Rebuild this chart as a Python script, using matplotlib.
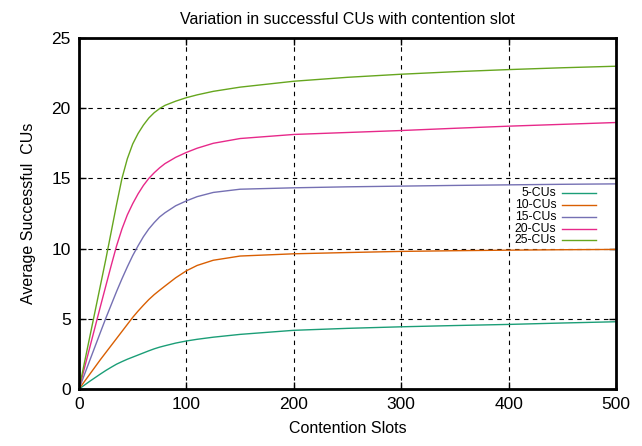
import matplotlib
matplotlib.use("Agg")
import matplotlib.pyplot as plt

plt.rcParams['font.family'] = ['Liberation Sans', 'DejaVu Sans']

slots = [0, 10, 20, 25, 30, 35, 40, 45, 50, 55, 60, 65, 70, 75, 80, 90, 100, 110, 125, 150,
         200, 250, 300, 350, 400, 450, 500]
cu5 = [0, 0.55, 1.07, 1.32, 1.55, 1.77, 1.95, 2.12, 2.27, 2.42, 2.57, 2.72, 2.86, 2.98, 3.08, 3.27, 3.42, 3.54, 3.69, 3.89,
       4.18, 4.32, 4.43, 4.52, 4.6, 4.7, 4.79]
cu10 = [0, 1.05, 2.1, 2.6, 3.1, 3.6, 4.1, 4.6, 5.1, 5.55, 5.97, 6.37, 6.72, 7.03, 7.33, 7.92, 8.42, 8.8, 9.17, 9.47,
        9.63, 9.72, 9.8, 9.85, 9.89, 9.92, 9.94]
cu15 = [0, 2.03, 4.05, 5.05, 6.0, 6.95, 7.85, 8.7, 9.5, 10.2, 10.85, 11.4, 11.85, 12.25, 12.55, 13.05, 13.4, 13.7, 14.0, 14.23,
        14.33, 14.4, 14.45, 14.5, 14.54, 14.58, 14.61]
cu20 = [0, 2.95, 5.9, 7.35, 8.8, 10.2, 11.4, 12.4, 13.2, 13.9, 14.5, 15.0, 15.4, 15.75, 16.05, 16.5, 16.85, 17.15, 17.5, 17.84,
        18.13, 18.27, 18.41, 18.57, 18.72, 18.85, 18.98]
cu25 = [0, 3.7, 7.4, 9.25, 11.2, 13.15, 15.0, 16.4, 17.45, 18.2, 18.8, 19.3, 19.68, 19.97, 20.2, 20.5, 20.75, 20.95, 21.2, 21.5,
        21.92, 22.2, 22.42, 22.6, 22.75, 22.88, 22.99]

labels = ['5-CUs', '10-CUs', '15-CUs', '20-CUs', '25-CUs']
colors = ['#1b9e77', '#d95f02', '#7570b3', '#e7298a', '#66a61e']
series = [cu5, cu10, cu15, cu20, cu25]

xticks = [0, 100, 200, 300, 400, 500]
yticks = [0, 5, 10, 15, 20, 25]

fig = plt.figure(figsize=(6.42, 4.46), dpi=100)
ax = fig.add_axes([79/642, 57/446, 537/642, 351/446])

for ys, lab, c in zip(series, labels, colors):
    ax.plot(slots, ys, color=c, lw=1.0, label=lab)

ax.set_xlim(0, 500)
ax.set_ylim(0, 25)
ax.set_xticks(xticks)
ax.set_yticks(yticks)
ax.grid(True, color='black', linestyle=(0, (4, 4)), lw=0.8)
ax.tick_params(direction='in', top=True, right=True, length=5, width=1, labelsize=12.5, pad=6)
for s in ax.spines.values():
    s.set_linewidth(2)

ax.set_title('Variation in successful CUs with contention slot', fontsize=11.5, pad=10)
ax.set_xlabel('Contention Slots', fontsize=11.5, labelpad=6)
ax.set_ylabel('Average Successful  CUs', fontsize=11.5, labelpad=11)

# legend (gnuplot style: label right-aligned, sample line to the right)
y0 = 0.5575
dy = 0.0336
for i, (lab, c) in enumerate(zip(labels, colors)):
    yy = y0 - i * dy
    ax.text(0.889, yy, lab, transform=ax.transAxes, ha='right', va='center', fontsize=8.8)
    ax.plot([0.9, 0.962], [yy, yy], transform=ax.transAxes, color=c, lw=1.0, clip_on=False)

fig.savefig('out.png', dpi=100)
